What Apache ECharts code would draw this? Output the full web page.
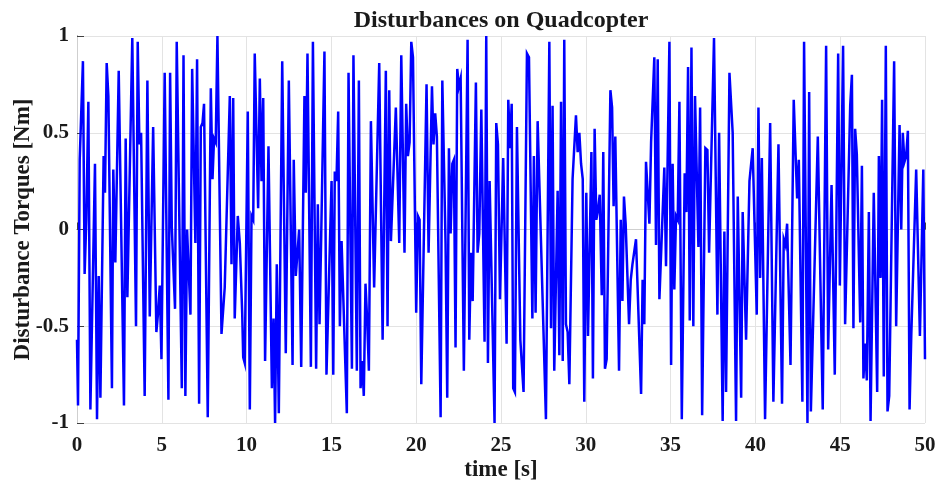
<!DOCTYPE html>
<html>
<head>
<meta charset="utf-8">
<title>Disturbances on Quadcopter</title>
<script src="https://cdn.jsdelivr.net/npm/echarts/dist/echarts.min.js"></script>
<style>
  html, body { margin: 0; padding: 0; background: #fff; }
  #chart { width: 945px; height: 490px; }
</style>
</head>
<body>
<div id="chart"></div>
<script>
// time [s] at each turning point of the trace
const timeS = [
  0, 0.06, 0.16, 0.26, 0.35, 0.45, 0.55, 0.67, 0.79, 0.87, 1.06, 1.18, 1.28, 1.38, 1.57, 1.65, 1.75, 1.85, 2.06, 2.14,
  2.26, 2.46, 2.77, 2.87, 2.97, 3.26, 3.48, 3.58, 3.68, 3.78, 3.99, 4.15, 4.29, 4.49, 4.68, 4.78, 4.88, 4.98, 5.17, 5.27,
  5.39, 5.49, 5.59, 5.69, 5.78, 5.88, 6.18, 6.28, 6.39, 6.49, 6.69, 6.79, 6.98, 7.08, 7.20, 7.30, 7.40, 7.49, 7.71, 7.89,
  7.99, 8.08, 8.18, 8.28, 8.52, 8.71, 9.01, 9.11, 9.21, 9.30, 9.48, 9.60, 9.74, 9.80, 9.89, 10.07, 10.19, 10.29, 10.39, 10.48,
  10.68, 10.78, 10.88, 10.98, 11.09, 11.29, 11.49, 11.59, 11.68, 11.78, 11.90, 12.10, 12.31, 12.49, 12.71, 12.78, 12.90, 13.00, 13.10, 13.22,
  13.41, 13.49, 13.59, 13.79, 13.91, 14.10, 14.20, 14.30, 14.40, 14.50, 14.59, 14.71, 15.01, 15.11, 15.20, 15.30, 15.40, 15.50, 15.60, 15.91,
  16.01, 16.21, 16.30, 16.50, 16.62, 16.72, 16.82, 16.91, 17.01, 17.11, 17.21, 17.33, 17.52, 17.82, 18.02, 18.21, 18.31, 18.41, 18.51, 18.80,
  19.00, 19.12, 19.31, 19.41, 19.51, 19.61, 19.71, 19.81, 20.00, 20.10, 20.20, 20.30, 20.61, 20.73, 20.93, 21.02, 21.12, 21.22, 21.32, 21.44,
  21.54, 21.73, 21.83, 21.93, 22.03, 22.13, 22.22, 22.32, 22.42, 22.52, 22.62, 22.81, 23.03, 23.13, 23.23, 23.33, 23.52, 23.62, 23.72, 23.84,
  24.03, 24.13, 24.23, 24.33, 24.43, 24.62, 24.72, 24.82, 24.94, 25.13, 25.23, 25.33, 25.43, 25.53, 25.63, 25.72, 25.82, 25.94, 26.14, 26.24,
  26.33, 26.53, 26.65, 26.85, 26.94, 27.04, 27.16, 27.26, 27.65, 27.85, 27.95, 28.04, 28.14, 28.34, 28.44, 28.54, 28.64, 28.73, 28.83, 28.93,
  29.03, 29.22, 29.42, 29.52, 29.62, 29.72, 29.82, 29.91, 30.03, 30.13, 30.33, 30.42, 30.52, 30.62, 30.72, 30.82, 30.94, 31.03, 31.13, 31.23,
  31.45, 31.55, 31.64, 31.74, 31.96, 32.06, 32.16, 32.25, 32.35, 32.55, 32.65, 32.75, 32.96, 33.26, 33.35, 33.45, 33.55, 33.65, 33.75, 33.85,
  33.95, 34.04, 34.14, 34.24, 34.34, 34.63, 34.73, 34.93, 35.03, 35.12, 35.22, 35.32, 35.42, 35.52, 35.66, 35.83, 35.93, 36.03, 36.13, 36.23,
  36.34, 36.44, 36.64, 36.74, 36.86, 37.05, 37.17, 37.27, 37.56, 37.76, 37.86, 38.07, 38.17, 38.27, 38.47, 38.66, 38.86, 38.96, 39.16, 39.25,
  39.45, 39.65, 39.84, 40.08, 40.18, 40.28, 40.38, 40.57, 40.87, 41.06, 41.16, 41.36, 41.57, 41.67, 41.77, 41.87, 42.07, 42.26, 42.46, 42.56,
  42.77, 42.87, 43.07, 43.17, 43.27, 43.68, 43.97, 44.17, 44.29, 44.49, 44.58, 44.68, 44.88, 44.98, 45.17, 45.29, 45.39, 45.59, 45.69, 45.78,
  45.88, 45.98, 46.18, 46.28, 46.37, 46.47, 46.57, 46.69, 46.79, 46.98, 47.18, 47.28, 47.38, 47.47, 47.57, 47.69, 47.79, 47.89, 48.18, 48.30,
  48.50, 48.60, 48.69, 48.79, 48.89, 48.99, 49.09, 49.19, 49.28, 49.48, 49.70, 49.80, 49.90, 50.00
];

// disturbance torque [Nm] at the same instants
const torqueNm = [
  -0.57, -0.91, 0.36, 0.37, 0.87, -0.23, 0.05, 0.66, -0.93, -0.92, 0.34, -0.98, -0.24, -0.87, 0.38, 0.19, 0.86, 0.69, -0.82, 0.31,
  -0.17, 0.82, -0.91, 0.47, -0.35, 0.99, -0.50, 0.97, 0.44, 0.50, -0.86, 0.77, -0.45, 0.53, -0.53, -0.43, -0.29, -0.67, 0.81, 0.82,
  -0.88, 0.81, 0.01, 0.01, -0.41, 0.97, -0.82, 0.90, -0.86, 0.00, -0.44, 0.83, -0.07, 0.88, -0.90, 0.53, 0.55, 0.65, -0.97, 0.73,
  0.26, 0.47, 0.45, 1.00, -0.54, -0.30, 0.69, -0.18, 0.68, -0.46, 0.07, -0.07, -0.43, -0.66, -0.69, 0.61, -0.93, 0.07, 0.05, 0.91,
  0.11, 0.78, 0.25, 0.68, -0.68, 0.43, -0.82, -0.46, -1.00, -0.18, -0.95, 0.87, -0.64, 0.77, -0.70, 0.36, -0.24, -0.23, 0.00, -0.71,
  0.69, 0.19, 0.91, -0.71, 0.97, -0.72, 0.13, -0.49, -0.03, -0.02, 0.92, -0.75, 0.25, -0.75, 0.30, 0.25, 0.61, -0.50, -0.06, -0.95,
  0.81, -0.72, 0.90, -0.73, 0.77, -0.82, -0.68, -0.86, -0.28, -0.47, -0.73, 0.56, -0.30, 0.86, -0.57, 0.82, -0.50, 0.72, -0.06, 0.63,
  -0.07, 0.90, -0.12, 0.65, 0.38, 0.45, 0.97, 0.89, -0.43, 0.07, 0.05, -0.80, 0.75, -0.12, 0.74, 0.44, 0.60, 0.48, 0.48, -0.97,
  0.77, -0.07, -0.87, 0.42, -0.02, 0.34, 0.36, -0.61, 0.83, 0.74, 0.78, -0.73, 0.98, -0.57, -0.12, -0.37, 0.76, -0.12, -0.02, 0.62,
  -0.58, 1.00, -0.69, 0.25, 0.24, -1.00, 0.55, 0.44, -0.36, 0.37, 0.36, -0.59, 0.67, 0.42, 0.65, -0.82, -0.84, 0.53, -0.57, -0.58,
  -0.84, 0.91, 0.89, -0.46, 0.38, -0.43, 0.56, 0.57, -0.98, 0.97, -0.51, 0.64, -0.73, 0.20, -0.65, 0.66, -0.68, 0.98, -0.49, -0.53,
  -0.80, 0.26, 0.59, 0.40, 0.50, 0.34, 0.26, -0.89, 0.19, -0.55, 0.40, -0.77, 0.52, 0.05, 0.10, 0.18, -0.34, 0.40, -0.72, -0.67,
  0.72, 0.63, 0.12, 0.48, -0.73, 0.05, -0.37, 0.17, 0.03, -0.49, -0.26, -0.18, -0.05, -0.85, -0.26, -0.49, 0.35, 0.34, 0.03, 0.45,
  0.45, 0.89, -0.08, 0.88, -0.36, 0.32, -0.19, 0.97, -0.70, 0.34, -0.31, 0.07, 0.05, 0.66, -0.98, 0.29, 0.09, 0.84, -0.47, 0.94,
  -0.50, 0.69, -0.09, 0.63, -0.96, 0.42, 0.41, -0.12, 0.99, -0.44, 0.50, -0.99, -0.01, -0.84, 0.81, 0.50, -0.99, 0.17, -0.87, 0.09,
  -0.57, 0.25, 0.42, -0.44, 0.63, -0.25, 0.37, -0.98, 0.55, -0.89, -0.88, 0.44, -0.90, -0.05, -0.08, 0.03, -0.70, 0.67, 0.16, 0.36,
  -0.89, 0.97, -1.00, 0.71, -0.94, 0.48, -0.93, 0.95, -0.62, 0.23, 0.22, -0.75, 0.91, -0.29, 0.95, -0.49, -0.49, 0.64, 0.80, -0.51,
  0.52, 0.39, -0.48, 0.33, -0.77, -0.59, -0.78, 0.09, -0.99, 0.19, -0.84, 0.38, -0.25, 0.67, -0.76, 0.95, -0.94, -0.86, 0.87, -0.50,
  0.54, 0.00, 0.50, 0.35, 0.38, 0.51, -0.93, -0.55, -0.55, 0.31, -0.55, -0.54, 0.31, -0.67
];

const xTicks = { min: 0, max: 50, step: 5 };
const yTicks = { min: -1, max: 1, step: 0.5 };

const font = '"Liberation Serif", "Times New Roman", serif';
const textColor = '#1a1a1a';
const axisColor = '#404040';

const chart = echarts.init(document.getElementById('chart'));

const points = timeS.map((t, i) => [t, torqueNm[i]]);

const option = {
  backgroundColor: '#ffffff',
  animation: false,
  title: {
    text: 'Disturbances on Quadcopter',
    left: 496,
    textAlign: 'center',
    top: 4,
    textStyle: { fontFamily: font, fontSize: 24, fontWeight: 'bold', color: textColor }
  },
  // fixed box, no automatic shrinking to fit labels
  grid: { left: 77, right: 20, top: 36, bottom: 67, outerBoundsMode: 'none' },
  xAxis: [
    {
      type: 'value',
      min: xTicks.min,
      max: xTicks.max,
      interval: xTicks.step,
      name: 'time [s]',
      nameLocation: 'middle',
      nameGap: 36,
      nameMoveOverlap: false,
      nameTextStyle: { fontFamily: font, fontSize: 23, fontWeight: 'bold', color: textColor },
      axisLine: { lineStyle: { color: axisColor, width: 1 } },
      axisTick: { inside: true, length: 7, lineStyle: { color: axisColor } },
      axisLabel: { fontFamily: font, fontSize: 21, fontWeight: 'bold', color: textColor, margin: 12 },
      splitLine: { lineStyle: { color: '#e3e3e3', width: 1 } }
    },
    {
      // top edge of the box
      type: 'value',
      position: 'top',
      min: xTicks.min,
      max: xTicks.max,
      interval: xTicks.step,
      axisLine: { show: true, lineStyle: { color: '#cfcfcf' } },
      axisTick: { show: false },
      axisLabel: { show: false },
      splitLine: { show: false }
    }
  ],
  yAxis: [
    {
      type: 'value',
      min: yTicks.min,
      max: yTicks.max,
      interval: yTicks.step,
      name: 'Disturbance Torques [Nm]',
      nameLocation: 'middle',
      nameRotate: 90,
      nameGap: 42,
      nameMoveOverlap: false,
      nameTextStyle: { fontFamily: font, fontSize: 23, fontWeight: 'bold', color: textColor },
      axisLine: { show: true, lineStyle: { color: axisColor, width: 1 } },
      axisTick: { show: true, inside: true, length: 7, lineStyle: { color: axisColor } },
      axisLabel: { fontFamily: font, fontSize: 21, fontWeight: 'bold', color: textColor, margin: 8 },
      splitLine: { lineStyle: { color: '#e3e3e3', width: 1 } }
    },
    {
      // right edge of the box
      type: 'value',
      position: 'right',
      min: yTicks.min,
      max: yTicks.max,
      interval: yTicks.step,
      axisLine: { show: true, lineStyle: { color: '#cfcfcf' } },
      axisTick: { show: false },
      axisLabel: { show: false },
      splitLine: { show: false }
    }
  ],
  series: [
    {
      name: 'Disturbance',
      type: 'line',
      data: points,
      showSymbol: false,
      lineStyle: { color: '#0000ff', width: 2.5, join: 'miter' },
      itemStyle: { color: '#0000ff' }
    }
  ]
};

chart.setOption(option);
</script>
</body>
</html>
